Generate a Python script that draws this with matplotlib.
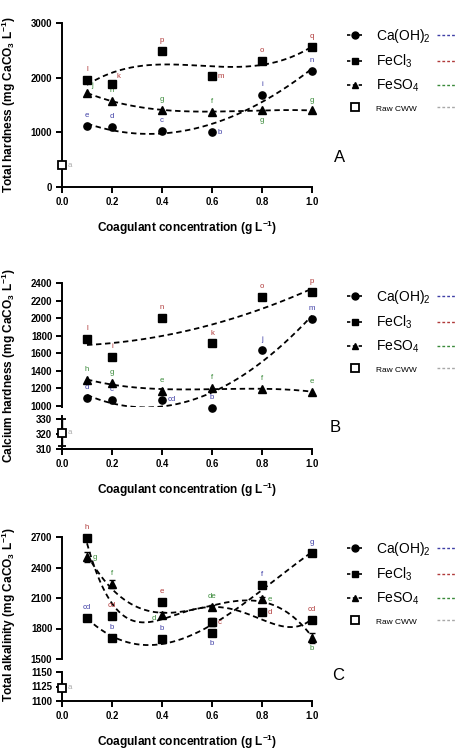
import numpy as np
import matplotlib
matplotlib.use('Agg')
import matplotlib.pyplot as plt
from matplotlib.lines import Line2D
from matplotlib.ticker import FormatStrFormatter

plt.rcParams['font.family'] = ['Liberation Sans', 'DejaVu Sans']
plt.rcParams['mathtext.default'] = 'regular'

# ---------------- data ----------------
conc = [0.1, 0.2, 0.4, 0.6, 0.8, 1.0]
raw_x = 0.0
x_ticks = [0.0, 0.2, 0.4, 0.6, 0.8, 1.0]

# Panel A: total hardness (mg CaCO3/L)
th_caoh2 = [1120, 1090, 1030, 1000, 1680, 2130]
th_fecl3 = [1960, 1880, 2480, 2030, 2300, 2560]
th_feso4 = [1720, 1570, 1410, 1380, 1400, 1400]
th_raw = 400
th_caoh2_sig = ['e', 'd', 'c', 'b', 'i', 'n']
th_fecl3_sig = ['l', 'k', 'p', 'm', 'o', 'q']
th_feso4_sig = ['j', 'h', 'g', 'f', 'g', 'g']
th_raw_sig = 'a'

# Panel B: calcium hardness
ch_caoh2 = [1090, 1060, 1070, 970, 1640, 1990]
ch_fecl3 = [1760, 1560, 2000, 1710, 2240, 2300]
ch_feso4 = [1290, 1260, 1170, 1200, 1190, 1160]
ch_raw = 321
ch_raw_err = 9
ch_caoh2_sig = ['d', 'c', 'cd', 'b', 'j', 'm']
ch_fecl3_sig = ['l', 'i', 'n', 'k', 'o', 'p']
ch_feso4_sig = ['h', 'g', 'e', 'f', 'f', 'e']
ch_raw_sig = 'a'

# Panel C: total alkalinity
ta_caoh2 = [1900, 1710, 1700, 1760, 2230, 2540]
ta_fecl3 = [2690, 1920, 2060, 1860, 1960, 1880]
ta_feso4 = [2500, 2240, 1930, 2010, 2090, 1710]
ta_caoh2_err = [15, 20, 30, 25, 30, 25]
ta_fecl3_err = [15, 15, 20, 40, 20, 20]
ta_feso4_err = [50, 40, 30, 25, 15, 50]
ta_raw = 1123
ta_caoh2_sig = ['cd', 'b', 'b', 'b', 'f', 'g']
ta_fecl3_sig = ['h', 'cd', 'e', 'c', 'd', 'cd']
ta_feso4_sig = ['g', 'f', 'd', 'de', 'e', 'b']
ta_raw_sig = 'a'

legend_labels = ['Ca(OH)$_2$', 'FeCl$_3$', 'FeSO$_4$', 'Raw CWW']

# ---------------- styling ----------------
W, H = 456, 753
fig = plt.figure(figsize=(W / 100, H / 100), dpi=100)

def rect(l, t, r, b):
    return [l / W, 1 - b / H, (r - l) / W, (b - t) / H]

C_BLUE = '#3f3fa6'
C_RED = '#b03a3a'
C_GREEN = '#3a8a3a'
C_GRAY = '#a8a8a8'
DASH = (0, (3, 2))
LW_AX = 1.4

def style_axis(ax, ylim, yticks, bottom=True):
    ax.set_xlim(0, 1.0)
    ax.set_ylim(*ylim)
    ax.set_yticks(yticks)
    for s in ['top', 'right']:
        ax.spines[s].set_visible(False)
    ax.spines['left'].set_linewidth(LW_AX)
    ax.spines['bottom'].set_linewidth(LW_AX)
    ax.tick_params(axis='both', direction='out', length=4, width=LW_AX,
                   labelsize=6.9, pad=3)
    if bottom:
        ax.set_xticks(x_ticks)
        ax.xaxis.set_major_formatter(FormatStrFormatter('%.1f'))
    else:
        ax.spines['bottom'].set_visible(False)
        ax.set_xticks([])
    for lab in ax.get_xticklabels() + ax.get_yticklabels():
        lab.set_fontweight('bold')
    ax.patch.set_alpha(0)

OFFS = {'t': (0, 5, 'center', 'bottom'), 'r': (4, 0, 'left', 'center'),
        'b': (0, -5, 'center', 'top'), 'l': (-4, -2, 'right', 'center'),
        'tr': (3, 3, 'left', 'bottom')}

def sig_labels(ax, xs, ys, labs, color, where):
    for x, y, s, w in zip(xs, ys, labs, where):
        dx, dy, ha, va = OFFS[w]
        ax.annotate(s, (x, y), xytext=(dx, dy), textcoords='offset points',
                    ha=ha, va=va, fontsize=5.6, color=color, annotation_clip=False)

def series(ax, y, marker, err=None, ms=5.2):
    ax.errorbar(conc, y, yerr=err, fmt=marker, color='black', ms=ms,
                capsize=2, elinewidth=1, capthick=1, clip_on=False, zorder=4)

def trend(ax, y, deg):
    p = np.polyfit(conc, y, deg)
    xf = np.linspace(conc[0], conc[-1], 200)
    ax.plot(xf, np.polyval(p, xf), ls=DASH, color='black', lw=1.3, zorder=3)

def raw_point(ax, y, err=None):
    ax.errorbar([raw_x], [y], yerr=err, fmt='s', mfc='white', mec='black',
                ecolor='black', ms=6, mew=1.3, capsize=3, elinewidth=1,
                clip_on=False, zorder=5)

legends = []

def legend(ax, top_px):
    hs = [Line2D([], [], color='black', marker='o', ms=5, ls=(0, (2, 1.5)), lw=1.2),
          Line2D([], [], color='black', marker='s', ms=5, ls=(0, (2, 1.5)), lw=1.2),
          Line2D([], [], color='black', marker='^', ms=5, ls=(0, (2, 1.5)), lw=1.2),
          Line2D([], [], color='black', marker='s', mfc='white', ms=5.5, mew=1.3, ls='none')]
    leg = ax.legend(hs, legend_labels, loc='upper left',
                    bbox_to_anchor=(347 / W, 1 - top_px / H),
                    bbox_transform=fig.transFigure, frameon=False,
                    fontsize=10, handlelength=1.1, handletextpad=1.0,
                    labelspacing=0.55, borderpad=0, borderaxespad=0)
    leg.get_texts()[3].set_fontsize(6)
    legends.append(leg)

XLABEL = 'Coagulant concentration (g L$^{-1}$)'
LBL_KW = dict(fontsize=8.6, fontweight='bold')

# ---------------- Panel A ----------------
axA = fig.add_axes(rect(62, 23, 312, 187))
style_axis(axA, (0, 3000), [0, 1000, 2000, 3000])
trend(axA, th_caoh2, 3)
trend(axA, th_fecl3, 3)
trend(axA, th_feso4, 3)
series(axA, th_caoh2, 'o')
series(axA, th_fecl3, 's')
series(axA, th_feso4, '^')
raw_point(axA, th_raw)
sig_labels(axA, conc, th_caoh2, th_caoh2_sig, C_BLUE, ['t', 't', 't', 'r', 't', 't'])
sig_labels(axA, conc, th_fecl3, th_fecl3_sig, C_RED, ['t', 'tr', 't', 'r', 't', 't'])
sig_labels(axA, conc, th_feso4, th_feso4_sig, C_GREEN, ['tr', 't', 't', 't', 'b', 't'])
sig_labels(axA, [raw_x], [th_raw], [th_raw_sig], C_GRAY, ['r'])
axA.set_xlabel(XLABEL, labelpad=8.5, **LBL_KW)
axA.set_ylabel('Total hardness (mg CaCO$_3$ L$^{-1}$)', **LBL_KW)
axA.yaxis.set_label_coords(-0.176, 0.5)
legend(axA, 27)
fig.text(340 / W, 1 - 158 / H, 'A', fontsize=12, ha='center', va='center')

# ---------------- Panel B ----------------
axB = fig.add_axes(rect(62, 283, 312, 407))
axB2 = fig.add_axes(rect(62, 416, 312, 449))
style_axis(axB, (985, 2400), list(range(1000, 2401, 200)), bottom=False)
style_axis(axB2, (310, 332), [310, 320, 330])
trend(axB, ch_caoh2, 3)
trend(axB, ch_fecl3, 2)
trend(axB, ch_feso4, 3)
series(axB, ch_caoh2, 'o')
series(axB, ch_fecl3, 's')
series(axB, ch_feso4, '^')
raw_point(axB2, ch_raw, ch_raw_err)
sig_labels(axB, conc, ch_caoh2, ch_caoh2_sig, C_BLUE, ['t', 't', 'r', 't', 't', 't'])
sig_labels(axB, conc, ch_fecl3, ch_fecl3_sig, C_RED, ['t', 't', 't', 't', 't', 't'])
sig_labels(axB, conc, ch_feso4, ch_feso4_sig, C_GREEN, ['t', 't', 't', 't', 't', 't'])
sig_labels(axB2, [raw_x], [ch_raw], [ch_raw_sig], C_GRAY, ['r'])
axB2.set_xlabel(XLABEL, labelpad=8.5, **LBL_KW)
axB.set_ylabel('Calcium hardness (mg CaCO$_3$ L$^{-1}$)', **LBL_KW)
axB.yaxis.set_label_coords(-0.176, (407 - 366) / (407 - 283))
legend(axB, 288)
fig.text(335 / W, 1 - 427 / H, 'B', fontsize=12, ha='center', va='center')

# ---------------- Panel C ----------------
axC = fig.add_axes(rect(62, 537, 312, 659))
axC2 = fig.add_axes(rect(62, 672, 312, 701))
style_axis(axC, (1500, 2700), [1500, 1800, 2100, 2400, 2700], bottom=False)
style_axis(axC2, (1100, 1150), [1100, 1125, 1150])
trend(axC, ta_caoh2, 3)
trend(axC, ta_fecl3, 4)
trend(axC, ta_feso4, 3)
series(axC, ta_caoh2, 's', ta_caoh2_err)
series(axC, ta_fecl3, 's', ta_fecl3_err)
series(axC, ta_feso4, '^', ta_feso4_err)
raw_point(axC2, ta_raw)
sig_labels(axC, conc, ta_caoh2, ta_caoh2_sig, C_BLUE, ['t', 't', 't', 'b', 't', 't'])
sig_labels(axC, conc, ta_fecl3, ta_fecl3_sig, C_RED, ['t', 't', 't', 'r', 'r', 't'])
sig_labels(axC, conc, ta_feso4, ta_feso4_sig, C_GREEN, ['r', 't', 'l', 't', 'r', 'b'])
sig_labels(axC2, [raw_x], [ta_raw], [ta_raw_sig], C_GRAY, ['r'])
axC2.set_xlabel(XLABEL, labelpad=8.5, **LBL_KW)
axC.set_ylabel('Total alkalinity (mg CaCO$_3$ L$^{-1}$)', **LBL_KW)
axC.yaxis.set_label_coords(-0.176, (659 - 615) / (659 - 537))
legend(axC, 540)
fig.text(338 / W, 1 - 675 / H, 'C', fontsize=12, ha='center', va='center')

# coloured dashes at the end of each legend row, aligned to the row centres
fig.canvas.draw()
renderer = fig.canvas.get_renderer()
for leg in legends:
    for hnd, col in zip(leg.legend_handles, [C_BLUE, C_RED, C_GREEN, C_GRAY]):
        bb = hnd.get_window_extent(renderer)
        yc = (bb.y0 + bb.y1) / 2 / fig.bbox.height
        fig.add_artist(Line2D([437 / W, 462 / W], [yc, yc], transform=fig.transFigure,
                              color=col, ls=(0, (2, 1.5)), lw=1.0))

fig.savefig('out.png', dpi=100)
